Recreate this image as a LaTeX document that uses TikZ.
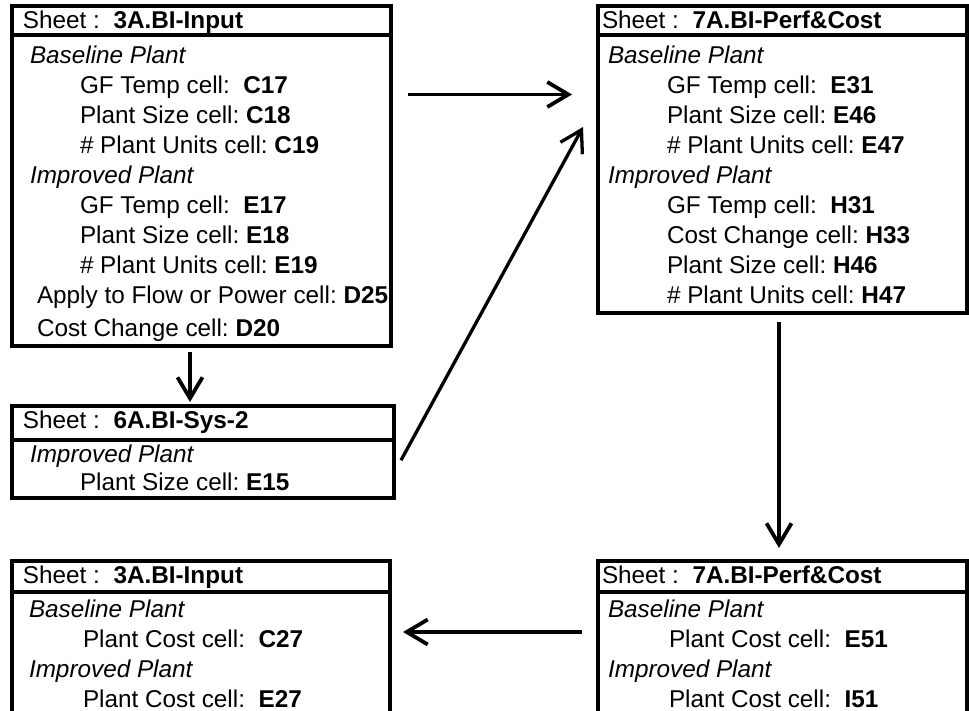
\documentclass[tikz,border=0pt]{standalone}
\usepackage{fontspec}
\setmainfont{Liberation Sans}
\usetikzlibrary{arrows.meta,calc}
\frenchspacing
\begin{document}
\begin{tikzpicture}[x=1pt,y=-1pt,
  box/.style={draw, line width=4pt, inner sep=0pt, outer sep=0pt, anchor=north west},
  divider/.style={line width=4pt},
  txt/.style={anchor=base west, inner sep=0pt, outer sep=0pt, font=\fontsize{24.3}{28}\selectfont},
  arr/.style={line width=3.8pt, -{Straight Barb[length=21pt,width=25pt]}}]
\useasboundingbox (0,0) rectangle (969,711);
\clip (0,0) rectangle (969,711);

% ---------- boxes ----------
\node[box, minimum width=379pt, minimum height=339pt]   (b1) at (11.5,6.5) {};
\node[box, minimum width=369pt, minimum height=306.5pt] (b2) at (597.5,6.5) {};
\node[box, minimum width=382pt, minimum height=92.5pt]  (b3) at (11.5,405.5) {};
\node[box, minimum width=378.5pt, minimum height=180pt] (b4) at (11.5,560.5) {};
\node[box, minimum width=369pt, minimum height=180pt]   (b5) at (597.5,560.5) {};

\draw[divider] ($(b1.north west)+(0,29)$) -- ($(b1.north east)+(0,29)$);
\draw[divider] ($(b2.north west)+(0,29)$) -- ($(b2.north east)+(0,29)$);
\draw[divider] ($(b3.north west)+(0,34.5)$) -- ($(b3.north east)+(0,34.5)$);
\draw[divider] ($(b4.north west)+(0,31)$) -- ($(b4.north east)+(0,31)$);
\draw[divider] ($(b5.north west)+(0,31)$) -- ($(b5.north east)+(0,31)$);

% ---------- box 1 ----------
\node[txt] (t1h) at (23,28.5) {Sheet :\ \ \textbf{3A.BI-Input}};
\node[txt] (t1a) at (30,63.5) {\itshape Baseline Plant};
\node[txt] (t1b) at (80,93.5) {GF Temp cell:\ \ \textbf{C17}};
\node[txt] (t1c) at (80,123.5) {Plant Size cell: \textbf{C18}};
\node[txt] (t1d) at (80,153.5) {\# Plant Units cell: \textbf{C19}};
\node[txt] (t1e) at (30,183.5) {\itshape Improved Plant};
\node[txt] (t1f) at (80,213.5) {GF Temp cell:\ \ \textbf{E17}};
\node[txt] (t1g) at (80,243.5) {Plant Size cell: \textbf{E18}};
\node[txt] (t1i) at (80,273.5) {\# Plant Units cell: \textbf{E19}};
\node[txt] (t1j) at (37,303.5) {Apply to Flow or Power cell: \textbf{D25}};
\node[txt] (t1k) at (37,336.5) {Cost Change cell: \textbf{D20}};

% ---------- box 2 ----------
\node[txt] (t2h) at (602,28.5) {Sheet :\ \ \textbf{7A.BI-Perf\&Cost}};
\node[txt] (t2a) at (608,63.5) {\itshape Baseline Plant};
\node[txt] (t2b) at (667,93.5) {GF Temp cell:\ \ \textbf{E31}};
\node[txt] (t2c) at (667,123.5) {Plant Size cell: \textbf{E46}};
\node[txt] (t2d) at (667,153.5) {\# Plant Units cell: \textbf{E47}};
\node[txt] (t2e) at (608,183.5) {\itshape Improved Plant};
\node[txt] (t2f) at (667,213.5) {GF Temp cell:\ \ \textbf{H31}};
\node[txt] (t2g) at (667,243.5) {Cost Change cell: \textbf{H33}};
\node[txt] (t2i) at (667,273.5) {Plant Size cell: \textbf{H46}};
\node[txt] (t2j) at (667,303.5) {\# Plant Units cell: \textbf{H47}};

% ---------- box 3 ----------
\node[txt] (t3h) at (23,428) {Sheet :\ \ \textbf{6A.BI-Sys-2}};
\node[txt] (t3a) at (30,462.5) {\itshape Improved Plant};
\node[txt] (t3b) at (80,490.5) {Plant Size cell: \textbf{E15}};

% ---------- box 4 ----------
\node[txt] (t4h) at (23,583) {Sheet :\ \ \textbf{3A.BI-Input}};
\node[txt] (t4a) at (29,617) {\itshape Baseline Plant};
\node[txt] (t4b) at (83,647) {Plant Cost cell:\ \ \textbf{C27}};
\node[txt] (t4c) at (29,677) {\itshape Improved Plant};
\node[txt] (t4d) at (83,707) {Plant Cost cell:\ \ \textbf{E27}};

% ---------- box 5 ----------
\node[txt] (t5h) at (602,583) {Sheet :\ \ \textbf{7A.BI-Perf\&Cost}};
\node[txt] (t5a) at (608,617) {\itshape Baseline Plant};
\node[txt] (t5b) at (669,647) {Plant Cost cell:\ \ \textbf{E51}};
\node[txt] (t5c) at (608,677) {\itshape Improved Plant};
\node[txt] (t5d) at (669,707) {Plant Cost cell:\ \ \textbf{I51}};

% ---------- connectors ----------
\draw[arr] ($(b1.north east)+(17.5,88)$) -- ($(b2.north west)+(-25.5,88)$);
\draw[arr, line width=3.3pt] ($(b3.east)+(7.5,8.5)$) -- ($(b2.north west)+(-14.5,120.5)$);
\draw[arr] ($(b1.south west)+(178.5,6.5)$) -- ($(b3.north west)+(178.5,-3.5)$);
\draw[arr] ($(b2.south west)+(181.5,9)$) -- ($(b5.north west)+(181.5,-12.5)$);
\draw[arr] ($(b5.north west)+(-15.5,71.5)$) -- ($(b4.north east)+(13,71.5)$);
\end{tikzpicture}
\end{document}
